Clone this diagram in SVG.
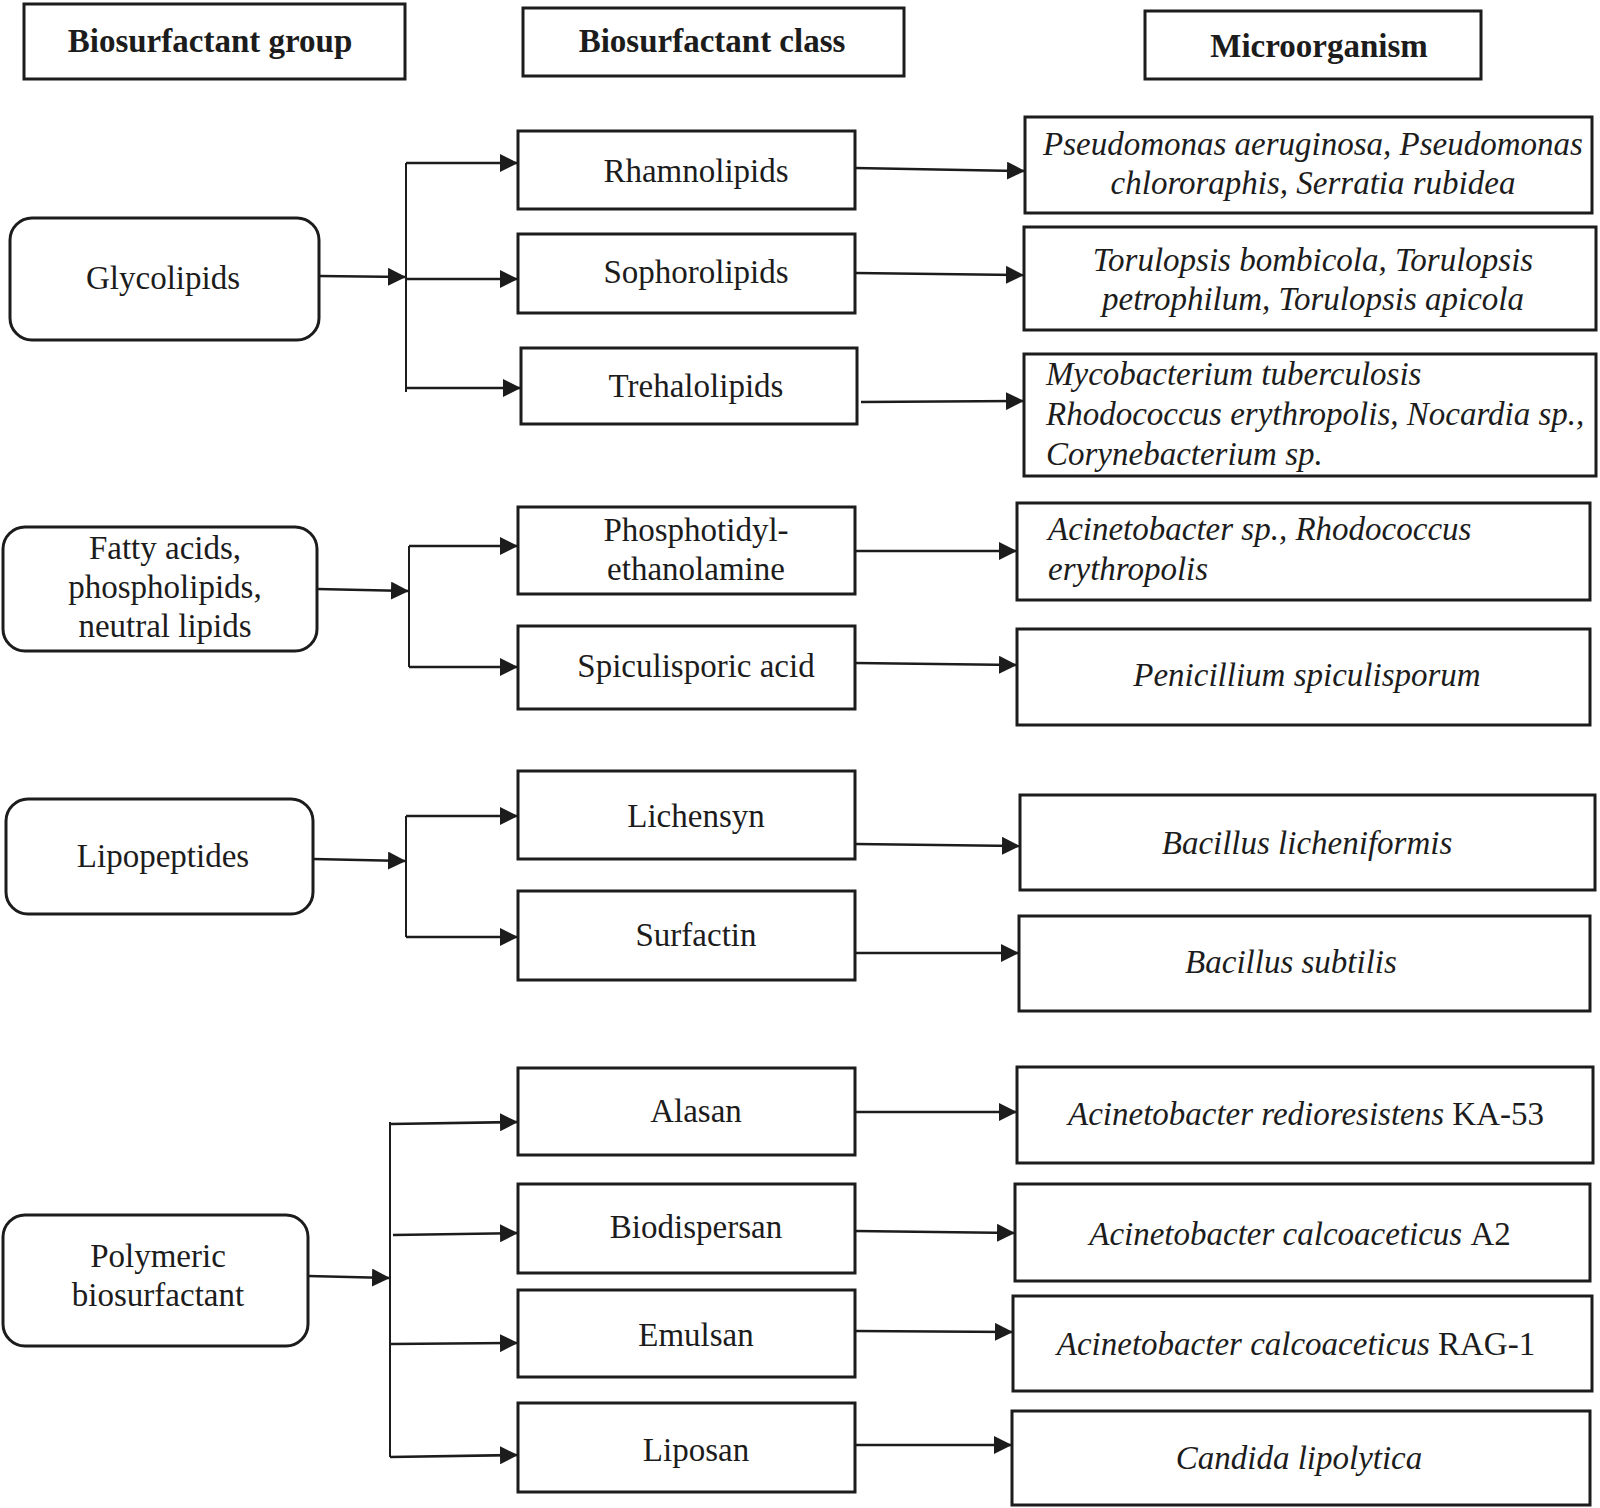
<svg xmlns="http://www.w3.org/2000/svg" width="1600" height="1508" viewBox="0 0 1600 1508">
<defs>
<marker id="ah" markerWidth="18" markerHeight="18" refX="18" refY="9" orient="auto" markerUnits="userSpaceOnUse"><path d="M0,0 L18,9 L0,18 z" fill="#1c1c1c"/></marker>
<style>
.box{fill:#fff;stroke:#1c1c1c;stroke-width:3}
.t{font-family:"Liberation Serif","Times New Roman",serif;font-size:33px;fill:#1c1c1c;text-anchor:middle}
.h{font-weight:bold}
.i{font-style:italic}
.l{text-anchor:start}
.n{font-style:normal}
.c{fill:none;stroke:#1c1c1c;stroke-width:2.5;marker-end:url(#ah)}
.tr{fill:none;stroke:#1c1c1c;stroke-width:2}
</style>
</defs>
<rect width="1600" height="1508" fill="#fff"/>

<g id="header-group"><rect class="box" x="24" y="4" width="381" height="75"/><text class="t h" x="210" y="52">Biosurfactant group</text></g>
<g id="header-class"><rect class="box" x="523" y="8" width="381" height="68"/><text class="t h" x="712" y="52">Biosurfactant class</text></g>
<g id="header-micro"><rect class="box" x="1145" y="11" width="336" height="68"/><text class="t h" x="1319" y="57">Microorganism</text></g>

<g id="glycolipids"><rect class="box" x="10" y="218" width="309" height="122" rx="22"/><text class="t" x="163" y="289">Glycolipids</text></g>
<g id="fatty"><rect class="box" x="3" y="527" width="314" height="124" rx="22"/><text class="t" x="165" y="559">Fatty acids,</text><text class="t" x="165" y="598">phospholipids,</text><text class="t" x="165" y="637">neutral lipids</text></g>
<g id="lipopeptides"><rect class="box" x="6" y="799" width="307" height="115" rx="22"/><text class="t" x="163" y="867">Lipopeptides</text></g>
<g id="polymeric"><rect class="box" x="3" y="1215" width="305" height="131" rx="22"/><text class="t" x="158" y="1267">Polymeric</text><text class="t" x="158" y="1306">biosurfactant</text></g>

<g id="rhamnolipids"><rect class="box" x="518" y="131" width="337" height="78"/><text class="t" x="696" y="182">Rhamnolipids</text></g>
<g id="sophorolipids"><rect class="box" x="518" y="234" width="337" height="79"/><text class="t" x="696" y="283">Sophorolipids</text></g>
<g id="trehalolipids"><rect class="box" x="521" y="348" width="336" height="76"/><text class="t" x="696" y="397">Trehalolipids</text></g>
<g id="phosphotidyl"><rect class="box" x="518" y="507" width="337" height="87"/><text class="t" x="696" y="541">Phosphotidyl-</text><text class="t" x="696" y="580">ethanolamine</text></g>
<g id="spiculisporic"><rect class="box" x="518" y="626" width="337" height="83"/><text class="t" x="696" y="677">Spiculisporic acid</text></g>
<g id="lichensyn"><rect class="box" x="518" y="771" width="337" height="88"/><text class="t" x="696" y="827">Lichensyn</text></g>
<g id="surfactin"><rect class="box" x="518" y="891" width="337" height="89"/><text class="t" x="696" y="946">Surfactin</text></g>
<g id="alasan"><rect class="box" x="518" y="1068" width="337" height="87"/><text class="t" x="696" y="1122">Alasan</text></g>
<g id="biodispersan"><rect class="box" x="518" y="1184" width="337" height="89"/><text class="t" x="696" y="1238">Biodispersan</text></g>
<g id="emulsan"><rect class="box" x="518" y="1290" width="337" height="87"/><text class="t" x="696" y="1346">Emulsan</text></g>
<g id="liposan"><rect class="box" x="518" y="1403" width="337" height="89"/><text class="t" x="696" y="1461">Liposan</text></g>

<g id="m-rhamno"><rect class="box" x="1025" y="117" width="567" height="96"/><text class="t i" x="1313" y="155">Pseudomonas aeruginosa, Pseudomonas</text><text class="t i" x="1313" y="194">chlororaphis, Serratia rubidea</text></g>
<g id="m-sophoro"><rect class="box" x="1024" y="227" width="572" height="103"/><text class="t i" x="1313" y="271">Torulopsis bombicola, Torulopsis</text><text class="t i" x="1313" y="310">petrophilum, Torulopsis apicola</text></g>
<g id="m-trehalo"><rect class="box" x="1024" y="354" width="572" height="122"/><text class="t i l" x="1046" y="385">Mycobacterium tuberculosis</text><text class="t i l" x="1046" y="425">Rhodococcus erythropolis, Nocardia sp.,</text><text class="t i l" x="1046" y="465">Corynebacterium sp.</text></g>
<g id="m-phospho"><rect class="box" x="1017" y="503" width="573" height="97"/><text class="t i l" x="1048" y="540">Acinetobacter sp., Rhodococcus</text><text class="t i l" x="1048" y="580">erythropolis</text></g>
<g id="m-spicu"><rect class="box" x="1017" y="629" width="573" height="96"/><text class="t i" x="1307" y="686">Penicillium spiculisporum</text></g>
<g id="m-lichen"><rect class="box" x="1020" y="795" width="575" height="95"/><text class="t i" x="1307" y="854">Bacillus licheniformis</text></g>
<g id="m-surf"><rect class="box" x="1019" y="916" width="571" height="95"/><text class="t i" x="1291" y="973">Bacillus subtilis</text></g>
<g id="m-alasan"><rect class="box" x="1017" y="1067" width="576" height="96"/><text class="t i" x="1306" y="1125">Acinetobacter redioresistens <tspan class="n">KA-53</tspan></text></g>
<g id="m-biodisp"><rect class="box" x="1015" y="1184" width="575" height="97"/><text class="t i" x="1300" y="1245">Acinetobacter calcoaceticus <tspan class="n">A2</tspan></text></g>
<g id="m-emulsan"><rect class="box" x="1013" y="1296" width="579" height="95"/><text class="t i" x="1296" y="1355">Acinetobacter calcoaceticus <tspan class="n">RAG-1</tspan></text></g>
<g id="m-liposan"><rect class="box" x="1012" y="1411" width="578" height="94"/><text class="t i" x="1299" y="1469">Candida lipolytica</text></g>

<g id="connectors">
<path class="c" d="M319,276 L406,277"/>
<path class="tr" d="M406,163 V392"/>
<path class="c" d="M406,163 L518,163"/>
<path class="c" d="M406,279 L518,279"/>
<path class="c" d="M406,388 L521,388"/>
<path class="c" d="M855,168 L1025,171"/>
<path class="c" d="M855,273 L1024,275"/>
<path class="c" d="M861,402 L1024,401"/>

<path class="c" d="M317,589 L409,591"/>
<path class="tr" d="M409,546 V667"/>
<path class="c" d="M409,546 L518,546"/>
<path class="c" d="M409,667 L518,667"/>
<path class="c" d="M855,551 L1017,551"/>
<path class="c" d="M855,663 L1017,665"/>

<path class="c" d="M313,859 L406,861"/>
<path class="tr" d="M406,816 V937"/>
<path class="c" d="M406,816 L518,816"/>
<path class="c" d="M406,937 L518,937"/>
<path class="c" d="M855,844 L1020,846"/>
<path class="c" d="M855,953 L1019,953"/>

<path class="c" d="M308,1276 L390,1278"/>
<path class="tr" d="M390,1122 V1457"/>
<path class="c" d="M390,1124 L518,1122"/>
<path class="c" d="M393,1235 L518,1233"/>
<path class="c" d="M390,1344 L518,1343"/>
<path class="c" d="M390,1457 L518,1455"/>
<path class="c" d="M855,1112 L1017,1112"/>
<path class="c" d="M855,1231 L1015,1233"/>
<path class="c" d="M855,1331 L1013,1332"/>
<path class="c" d="M855,1445 L1012,1445"/>
</g>
</svg>
